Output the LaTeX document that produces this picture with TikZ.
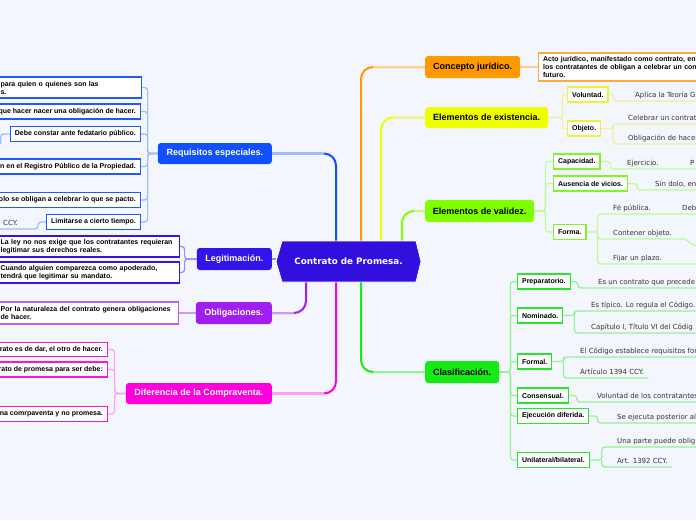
\documentclass[tikz,border=0pt]{standalone}
\usepackage{fontspec}
\setmainfont{Liberation Sans}
\newfontfamily\dvs{DejaVu Sans}
\definecolor{bg}{RGB}{244,246,254}
\definecolor{chex}{RGB}{50,15,220}
\definecolor{corange}{RGB}{255,153,0}
\definecolor{corl}{RGB}{255,205,140}
\definecolor{cordef}{RGB}{255,170,60}
\definecolor{cyel}{RGB}{238,255,0}
\definecolor{cyl}{RGB}{240,240,150}
\definecolor{cysub}{RGB}{240,240,60}
\definecolor{clg}{RGB}{128,255,0}
\definecolor{clgl}{RGB}{190,250,150}
\definecolor{clgsub}{RGB}{128,245,40}
\definecolor{cgr}{RGB}{20,235,20}
\definecolor{cgrl}{RGB}{150,240,150}
\definecolor{cgrsub}{RGB}{40,230,40}
\definecolor{cbl}{RGB}{16,80,255}
\definecolor{cbll}{RGB}{160,185,255}
\definecolor{cblsub}{RGB}{30,90,255}
\definecolor{cleg}{RGB}{50,20,235}
\definecolor{clegl}{RGB}{150,140,245}
\definecolor{clegsub}{RGB}{50,20,230}
\definecolor{cpu}{RGB}{160,30,240}
\definecolor{cpul}{RGB}{210,150,245}
\definecolor{cpusub}{RGB}{185,100,240}
\definecolor{cma}{RGB}{255,0,220}
\definecolor{cmal}{RGB}{255,160,240}
\definecolor{cmasub}{RGB}{250,20,220}
\pgfdeclarelayer{back}
\pgfdeclarelayer{lines}
\pgfsetlayers{back,lines,main}
\tikzset{
  mainn/.style={rounded corners=3pt, inner sep=0pt, font=\bfseries\fontsize{9}{11}\selectfont},
  sbox/.style={draw, fill=white, line width=1.2pt, inner xsep=4.5pt, inner ysep=0pt, minimum height=15pt, font=\bfseries\fontsize{7}{8}\selectfont, align=left},
  utext/.style={inner xsep=4pt, inner ysep=2pt, text depth=1.5pt, anchor=south west, font=\dvs\fontsize{7}{8}\selectfont, text=black!80},
  conn/.style={line width=1.2pt, rounded corners=3pt},
  trunk/.style={line width=2pt, rounded corners=12pt},
  trunkl/.style={line width=2pt}
}
\begin{document}
\begin{tikzpicture}[x=1pt,y=-1pt]
\useasboundingbox (0,0) rectangle (696,520);
\begin{pgfonlayer}{back}
\fill[bg] (0,0) rectangle (696,520);
\end{pgfonlayer}
\clip (0,0) rectangle (696,520);
\coordinate (R) at (700,0);
\coordinate (L) at (-6,0);
\coordinate (xo) at (361,0);
\coordinate (xy) at (381,0);
\coordinate (xg) at (402,0);
\coordinate (xb) at (336,0);
\coordinate (xp) at (306,0);
\coordinate (Rc) at (686,0);

% central hexagon
\fill[chex, draw=white, line width=0.8pt] (276,261.5) -- (282,241) -- (416,241) -- (421,261.5) -- (416,282) -- (282,282) -- cycle;
\node[minimum width=145pt, minimum height=41pt, inner sep=0pt, text=white, font=\dvs\bfseries\fontsize{8.8}{10}\selectfont] (cen) at (348.5,261.5) {Contrato de Promesa.};

% main topics
\node[mainn, fill=corange, minimum width=95pt, minimum height=22pt, anchor=west] (con) at (425,67) {Concepto jurídico.};
\node[mainn, fill=cyel, minimum width=123pt, minimum height=21pt, anchor=west] (ex) at (425,117.5) {Elementos de existencia.};
\node[mainn, fill=clg, minimum width=109pt, minimum height=22pt, anchor=west] (val) at (425,211) {Elementos de validez.};
\node[mainn, fill=cgr, minimum width=74pt, minimum height=22pt, anchor=west] (cla) at (425,372) {Clasificación.};
\node[mainn, fill=cbl, text=white, minimum width=114pt, minimum height=21pt, anchor=east] (req) at (272,153.5) {Requisitos especiales.};
\node[mainn, fill=cleg, text=white, minimum width=75pt, minimum height=22pt, anchor=east] (leg) at (272,259) {Legitimación.};
\node[mainn, fill=cpu, text=white, minimum width=76pt, minimum height=22pt, anchor=east] (obl) at (272,313) {Obligaciones.};
\node[mainn, fill=cma, text=white, minimum width=146pt, minimum height=21pt, anchor=east] (dif) at (272,393.5) {Diferencia de la Compraventa.};

% left sub boxes
\node[sbox, draw=cblsub, anchor=west, text width=136.5pt, minimum height=21pt] (r1) at (-4.5,87.5) {\mbox{para quien o quienes son las}\\s.};
\node[sbox, draw=cblsub, anchor=east] (r2) at (141,111.5) {que hacer nacer una obligación de hacer.};
\node[sbox, draw=cblsub, anchor=east] (r3) at (141,134) {Debe constar ante fedatario público.};
\node[sbox, draw=cblsub, anchor=east] (r4) at (141,166.5) {n en el Registro Público de la Propiedad.};
\node[sbox, draw=cblsub, anchor=east] (r5) at (141,200) {olo se obligan a celebrar lo que se pacto.};
\node[sbox, draw=cblsub, anchor=east] (r6) at (141,222) {Limitarse a cierto tiempo.};
\node[utext] (ccy) at (-1,229) {CCY.};

\node[sbox, draw=clegsub, anchor=west, text width=174.5pt, minimum height=21pt] (l1) at (-4.5,246.5) {\mbox{La ley no nos exige que los contratantes requieran}\\\mbox{legitimar sus derechos reales.}};
\node[sbox, draw=clegsub, anchor=west, text width=174.5pt, minimum height=21pt] (l2) at (-4.5,272.5) {\mbox{Cuando alguien comparezca como apoderado,}\\\mbox{tendrá que legitimar su mandato.}};
\node[sbox, draw=cpusub, anchor=west, text width=173.5pt, minimum height=22pt] (o1) at (-4.5,313) {\mbox{Por la naturaleza del contrato genera obligaciones}\\de hacer.};

\node[sbox, draw=cmasub, anchor=east, minimum height=14pt] (d1) at (108,349.5) {rato es de dar, el otro de hacer.};
\node[sbox, draw=cmasub, anchor=east] (d2) at (108,369.5) {rato de promesa para ser debe:};
\node[sbox, draw=cmasub, anchor=east] (d3) at (108,414) {na comrpaventa y no promesa.};

% right sub boxes
\node[sbox, draw=cordef, anchor=west, text width=170pt, minimum height=28pt] (def) at (538,67) {\mbox{Acto jurídico, manifestado como contrato, en}\\\mbox{los contratantes de obligan a celebrar un cont}\\futuro.};
\node[sbox, draw=cysub, anchor=west] (vol) at (567,94.5) {Voluntad.};
\node[sbox, draw=cysub, anchor=west] (obj) at (567,128.5) {Objeto.};
\node[sbox, draw=clgsub, anchor=west] (cap) at (553,161.5) {Capacidad.};
\node[sbox, draw=clgsub, anchor=west] (aus) at (553,183.5) {Ausencia de vicios.};
\node[sbox, draw=clgsub, anchor=west] (forma) at (553,232) {Forma.};
\node[sbox, draw=cgrsub, anchor=west] (prep) at (517,281.5) {Preparatorio.};
\node[sbox, draw=cgrsub, anchor=west] (nom) at (517,315.5) {Nominado.};
\node[sbox, draw=cgrsub, anchor=west] (formal) at (517,361.5) {Formal.};
\node[sbox, draw=cgrsub, anchor=west] (cons) at (517,395.5) {Consensual.};
\node[sbox, draw=cgrsub, anchor=west] (ejec) at (517,416) {Ejecución diferida.};
\node[sbox, draw=cgrsub, anchor=west] (uni) at (517,460) {Unilateral/bilateral.};

% right texts
\node[utext] (aplica) at (631,101) {Aplica la Teoría G};
\node[utext] (cel) at (624,124) {Celebrar un contrat};
\node[utext] (oblh) at (624,144) {Obligación de hacer};
\node[utext] (eje) at (623,169) {Ejercicio.};
\node[utext] (pcut) at (686,169) {P};
\node[utext] (sin) at (651,190) {Sin dolo, en};
\node[utext] (fe) at (609,214) {Fé pública.};
\node[utext] (deb) at (678,214) {Deb};
\node[utext] (cont) at (609,239) {Contener objeto.};
\node[utext] (fij) at (609,264) {Fijar un plazo.};
\node[utext] (esun) at (594,288) {Es un contrato que precede};
\node[utext] (tip) at (587,311) {Es típico. Lo regula el Código.};
\node[utext] (capi) at (587,333) {Capítulo I, Título VI del Códig};
\node[utext] (elc) at (576,357) {El Código establece requisitos for};
\node[utext] (art94) at (576,378) {Artículo 1394 CCY.};
\node[utext] (vold) at (593,402) {Voluntad de los contratantes};
\node[utext] (seej) at (613,423) {Se ejecuta posterior al};
\node[utext] (una) at (613,447) {Una parte puede oblig};
\node[utext] (art92) at (613,467) {Art. 1392 CCY.};

\begin{pgfonlayer}{lines}
% trunks
\draw[trunk, corange] (cen.north -| xo) |- (con.west);
\draw[trunkl, corl] (con.west -| xo) ++(12,0) -- (con.west);
\draw[trunk, cyel] (cen.north -| xy) |- (ex.west);
\draw[trunkl, cyl] (ex.west -| xy) ++(12,0) -- (ex.west);
\draw[trunk, clg] (cen.north -| xg) |- (val.west);
\draw[trunkl, clgl] (val.west -| xg) ++(12,0) -- (val.west);
\draw[trunk, cgr] (cen.south -| xo) |- (cla.west);
\draw[trunkl, cgrl] (cla.west -| xo) ++(12,0) -- (cla.west);
\draw[trunk, cbl] (cen.north -| xb) |- (req.east);
\draw[trunkl, cbll] (req.east -| xb) ++(-12,0) -- (req.east);
\draw[trunkl, clegl] (leg.east -| cen.west) -- (leg.east);
\draw[trunk, cpu] (cen.south -| xp) |- (obl.east);
\draw[trunkl, cpul] (obl.east -| xp) ++(-12,0) -- (obl.east);
\draw[trunk, cma] (cen.south -| xb) |- (dif.east);
\draw[trunkl, cmal] (dif.east -| xb) ++(-12,0) -- (dif.east);

% left connectors
\foreach \n in {r1,r2,r3,r4,r5,r6}
  \draw[conn, cbll] (req.west) -- ++(-10,0) |- (\n.east);
\draw[conn, cbll] (r3.west) -- ++(-9,0) -- ++(0,10);
\draw[conn, cbll] (r6.west) -- ++(-8,0) |- (ccy.south east) -- (ccy.south west -| L);
\foreach \n in {l1,l2}
  \draw[conn, clegl] (leg.west) -- ++(-12,0) |- (\n.east);
\draw[conn, cpul] (obl.west) -- (o1.east);
\foreach \n in {d1,d2,d3}
  \draw[conn, cmal] (dif.west) -- ++(-11,0) |- (\n.east);

% right connectors
\draw[conn, corl] (con.east) -- (def.west);
\foreach \n in {vol,obj}
  \draw[conn, cyl] (ex.east) -- ++(14,0) |- (\n.west);
\draw[conn, cyl] (vol.east) -- ++(5,0) |- (aplica.south west) -- (aplica.south west -| R);
\draw[conn, cyl] (obj.east) -- ++(12,0) |- (cel.south west) -- (cel.south west -| R);
\draw[conn, cyl] (obj.east) ++(12,0) |- (oblh.south west) -- (oblh.south west -| R);

\foreach \n in {cap,aus,forma}
  \draw[conn, clgl] (val.east) -- ++(11,0) |- (\n.west);
\draw[conn, clgl] (cap.east) -- ++(10,0) |- (eje.south west) -- (eje.south west -| R);
\draw[conn, clgl] (aus.east) -- ++(9,0) |- (sin.south west) -- (sin.south west -| R);
\draw[conn, clgl] (forma.east) -- ++(11,0) |- (fe.south west) -- (fe.south west -| R);
\draw[conn, clgl] (forma.east) ++(11,0) |- (cont.south west) -- (cont.south west -| Rc) -- ++(6,6) -- ++(20,0);
\draw[conn, clgl] (forma.east) ++(11,0) |- (fij.south west) -- (fij.south west -| R);

\foreach \n in {prep,nom,formal,cons,ejec,uni}
  \draw[conn, cgrl] (cla.east) -- ++(11,0) |- (\n.west);
\draw[conn, cgrl] (prep.east) -- ++(7,0) |- (esun.south west) -- (esun.south west -| R);
\draw[conn, cgrl] (nom.east) -- ++(11,0) |- (tip.south west) -- (tip.south west -| R);
\draw[conn, cgrl] (nom.east) ++(11,0) |- (capi.south west) -- (capi.south west -| R);
\draw[conn, cgrl] (formal.east) -- ++(11,0) |- (elc.south west) -- (elc.south west -| R);
\draw[conn, cgrl] (formal.east) ++(11,0) |- (art94.south west) -- (art94.south east);
\draw[conn, cgrl] (cons.east) -- ++(8,0) |- (vold.south west) -- (vold.south west -| R);
\draw[conn, cgrl] (ejec.east) -- ++(8,0) |- (seej.south west) -- (seej.south west -| R);
\draw[conn, cgrl] (uni.east) -- ++(12,0) |- (una.south west) -- (una.south west -| R);
\draw[conn, cgrl] (uni.east) ++(12,0) |- (art92.south west) -- (art92.south east);
\end{pgfonlayer}
\end{tikzpicture}
\end{document}
